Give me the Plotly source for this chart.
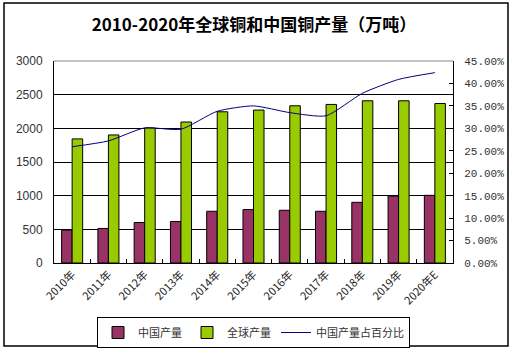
import plotly.graph_objects as go

years = ["2010年", "2011年", "2012年", "2013年", "2014年", "2015年",
         "2016年", "2017年", "2018年", "2019年", "2020年E"]
china_output = [488, 513, 601, 616, 768, 793, 783, 768, 901, 995, 1005]
global_output = [1843, 1902, 2005, 2094, 2246, 2271, 2335, 2355, 2409, 2409, 2369]
china_share = [0.259, 0.272, 0.301, 0.298, 0.338, 0.350, 0.335, 0.328, 0.378, 0.409, 0.424]

fig = go.Figure()
fig.add_trace(go.Bar(
    x=years, y=china_output, name="中国产量",
    marker=dict(color="#993366", line=dict(color="black", width=1)),
))
fig.add_trace(go.Bar(
    x=years, y=global_output, name="全球产量",
    marker=dict(color="#99CC00", line=dict(color="black", width=1)),
))
fig.add_trace(go.Scatter(
    x=years, y=china_share, name="中国产量占百分比", yaxis="y2",
    mode="lines", line=dict(color="#000080", width=1, shape="spline", smoothing=0.6),
))

W, H = 519, 356
L, R, T, B = 54, 66, 61, 93
plot_w = W - L - R
plot_h = H - T - B


def px_x(px):
    return (px - L) / plot_w


def px_y(py):
    return (H - B - py) / plot_h


fig.update_layout(
    width=W, height=H,
    margin=dict(l=L, r=R, t=T, b=B, autoexpand=False),
    paper_bgcolor="white", plot_bgcolor="white",
    barmode="group", bargap=0.42, bargroupgap=0,
    font=dict(family="Noto Sans CJK SC", size=11, color="black"),
    title=dict(
        text="2010-2020年全球铜和中国铜产量（万吨）",
        x=254 / W, xref="container", xanchor="center",
        y=1 - 25 / H, yref="container", yanchor="middle",
        font=dict(family="Noto Sans CJK SC", size=17, color="black", weight="bold"),
    ),
    xaxis=dict(
        type="category", tickangle=-45, tickson="boundaries",
        ticks="inside", ticklen=4, tickcolor="black",
        showline=True, linecolor="black", linewidth=1,
        showgrid=False, mirror=False, automargin=False,
        tickfont=dict(family="Noto Sans CJK SC", size=11, color="#222222"),
    ),
    yaxis=dict(
        range=[0, 3000], tickvals=[0, 500, 1000, 1500, 2000, 2500, 3000],
        showgrid=True, gridcolor="black", gridwidth=1,
        showline=True, linecolor="black", linewidth=1,
        ticks="", zeroline=False, automargin=False,
        tickfont=dict(family="Liberation Sans", size=12, color="#333333"),
        ticklabelstandoff=8,
    ),
    yaxis2=dict(
        overlaying="y", side="right", range=[0, 0.45], dtick=0.05,
        tickformat=".2%", showgrid=False, zeroline=False, automargin=False,
        showline=True, linecolor="black", linewidth=1,
        ticks="inside", ticklen=4, tickcolor="black",
        tickfont=dict(family="Liberation Mono", size=11, color="#333333"),
        ticklabelstandoff=8,
    ),
    legend=dict(
        orientation="h", x=0.5, xanchor="center", y=px_y(317), yanchor="top",
        bordercolor="black", borderwidth=1, bgcolor="white",
        font=dict(family="Noto Sans CJK SC", size=11, color="#333333"),
        itemwidth=30, tracegroupgap=0,
    ),
    showlegend=True,
    shapes=[
        dict(type="line", xref="paper", yref="paper", x0=0, x1=1, y0=1, y1=1,
             line=dict(color="#888888", width=1)),
        dict(type="rect", xref="paper", yref="paper",
             x0=px_x(4), x1=px_x(508), y0=px_y(346), y1=px_y(3),
             line=dict(color="black", width=1.5), fillcolor="rgba(0,0,0,0)"),
    ],
)

fig.write_html(
    "out.html",
    config={"displayModeBar": False},
    post_script="document.body.style.margin='0';document.body.style.overflow='hidden';",
)
